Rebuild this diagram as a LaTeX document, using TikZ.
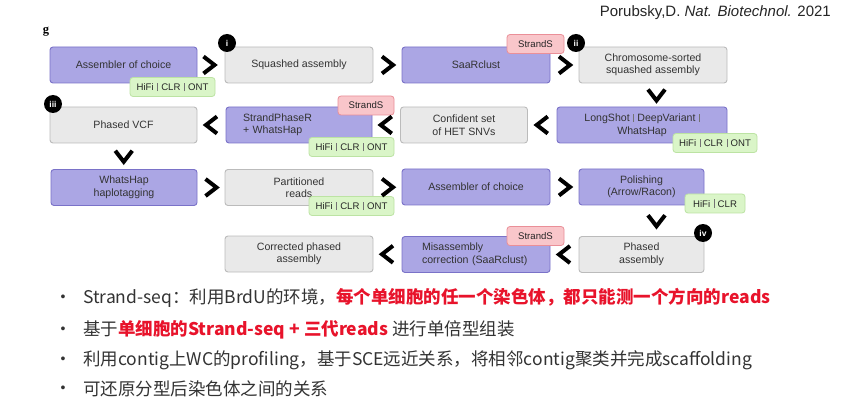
\documentclass[tikz,border=0pt]{standalone}
\usepackage{fontspec}
\setmainfont{Liberation Sans}
\newfontfamily\cjk{Noto Sans CJK SC}
\newfontfamily\serifg{Liberation Serif}
\usetikzlibrary{calc}

\definecolor{purfill}{HTML}{ABA6E4}
\definecolor{purdraw}{HTML}{7A72C8}
\definecolor{grfill}{HTML}{E9E9E9}
\definecolor{grdraw}{HTML}{BBBBBB}
\definecolor{tagG}{HTML}{DAF5C8}
\definecolor{tagGd}{HTML}{BCE3A3}
\definecolor{tagP}{HTML}{F9C6CA}
\definecolor{tagPd}{HTML}{EA8F98}
\definecolor{ink}{HTML}{333333}
\definecolor{hot}{HTML}{E8132B}

\tikzset{
  stepbase/.style={rounded corners=3pt, line width=0.9pt, minimum height=36pt,
    text=ink, inner sep=0pt, align=center, font=\fontsize{10.6}{12.5}\selectfont},
  tool/.style={stepbase, fill=purfill, draw=purdraw},
  data/.style={stepbase, fill=grfill, draw=grdraw},
  tagbase/.style={rounded corners=3pt, line width=0.8pt, minimum height=19pt,
    inner sep=0pt, text=black!85, font=\fontsize{9.6}{11}\selectfont},
  techtag/.style={tagbase, fill=tagG, draw=tagGd},
  strandtag/.style={tagbase, fill=tagP, draw=tagPd},
  badge/.style={circle, fill=black, text=white, minimum size=18pt, inner sep=0pt,
    font=\bfseries\fontsize{8.5}{9}\selectfont},
  chev/.pic={\draw[line width=4pt, line join=miter, line cap=butt]
    (-5.5,-8.5) -- (5.5,0) -- (-5.5,8.5);},
  bulletline/.style={anchor=west, inner sep=0pt, text=ink,
    font=\cjk\fontsize{17.5}{20}\selectfont},
}
\newcommand{\techsep}{\hspace{3.5pt}\textcolor{black!55}{\rule[-0.5pt]{0.6pt}{8.5pt}}\hspace{3.5pt}}

\begin{document}
\begin{tikzpicture}[x=1pt, y=-1pt]
\useasboundingbox[fill=white] (0,0) rectangle (843,406);

% reference line and panel letter
\node[anchor=east, inner sep=0pt, text=black!85, font=\fontsize{15}{17}\selectfont]
  (cite) at (831,13) {Porubsky,D. \textit{Nat. Biotechnol.} 2021};
\node[inner sep=0pt, font=\serifg\bfseries\fontsize{12.5}{13}\selectfont] (glabel) at (46,32) {g};

% row 1
\node[tool, minimum width=147pt] (a1) at (123.5,65) {Assembler of choice};
\node[data, minimum width=148pt] (b1) at (299,65) {Squashed assembly};
\node[tool, minimum width=148pt] (c1) at (476,65) {SaaRclust};
\node[data, minimum width=148pt] (d1) at (653,65) {Chromosome-sorted\\squashed assembly};

% row 2
\node[tool, minimum width=170pt] (d2) at (642,125) {LongShot\techsep DeepVariant\techsep\\WhatsHap};
\node[data, minimum width=127pt] (c2) at (464,125) {Confident set\\of HET SNVs};
\node[tool, minimum width=146pt, text width=112pt, align=left, inner xsep=17pt] (b2) at (299,125) {StrandPhaseR\\+ WhatsHap};
\node[data, minimum width=147pt] (a2) at (123.5,125) {Phased VCF};

% row 3
\node[tool, minimum width=146pt] (a3) at (124,187.5) {WhatsHap\\haplotagging};
\node[data, minimum width=148pt] (b3) at (299,187.5) {Partitioned\\reads};
\node[tool, minimum width=148pt] (c3) at (476,187) {Assembler of choice};
\node[tool, minimum width=125pt] (d3) at (641.5,187) {Polishing\\(Arrow/Racon)};

% row 4
\node[data, minimum width=125pt] (d4) at (641.5,254.5) {Phased\\assembly};
\node[tool, minimum width=148pt, text width=108pt, align=left, inner xsep=20pt] (c4) at (476,254.5) {Misassembly\\correction (SaaRclust)};
\node[data, minimum width=148pt] (b4) at (299,254) {Corrected phased\\assembly};

% sequencing-technology and Strand-seq tags
\node[techtag, minimum width=85pt] (t1) at (172.5,87) {HiFi\techsep CLR\techsep ONT};
\node[strandtag, minimum width=57pt] (t2) at (535.5,44) {StrandS};
\node[techtag, minimum width=84pt] (t3) at (715,143) {HiFi\techsep CLR\techsep ONT};
\node[strandtag, minimum width=56pt] (t4) at (366,105.5) {StrandS};
\node[techtag, minimum width=85pt] (t5) at (351.5,147) {HiFi\techsep CLR\techsep ONT};
\node[techtag, minimum width=85pt] (t6) at (351.5,206) {HiFi\techsep CLR\techsep ONT};
\node[techtag, minimum width=60pt] (t7) at (715,203.5) {HiFi\techsep CLR};
\node[strandtag, minimum width=57pt] (t8) at (535.5,236) {StrandS};

% step badges
\node[badge] (bi) at (227,43) {i};
\node[badge] (bii) at (576,43) {ii};
\node[badge] (biii) at (53,104) {iii};
\node[badge] (biv) at (703,233) {iv};

% chevrons between consecutive steps
\pic at ($(a1.east)!0.5!(b1.west)+(-2,0)$) {chev};
\pic at ($(b1.east)!0.5!(c1.west)$) {chev};
\pic at ($(c1.east)!0.5!(d1.west)$) {chev};
\pic[rotate=-90] at ($(d1.south)!0.5!(d2.north)+(9,0)$) {chev};
\pic[rotate=180] at ($(d2.west)!0.5!(c2.east)$) {chev};
\pic[rotate=180] at ($(c2.west)!0.5!(b2.east)$) {chev};
\pic[rotate=180] at ($(b2.west)!0.5!(a2.east)$) {chev};
\pic[rotate=-90] at ($(a2.south)!0.5!(a3.north)$) {chev};
\pic at ($(a3.east)!0.5!(b3.west)$) {chev};
\pic at ($(b3.east)!0.5!(c3.west)$) {chev};
\pic at ($(c3.east)!0.5!(d3.west)$) {chev};
\pic[rotate=-90] at ($(d3.south)!0.5!(d4.north)+(15,0)$) {chev};
\pic[rotate=180] at ($(d4.west)!0.5!(c4.east)$) {chev};
\pic[rotate=180] at ($(c4.west)!0.5!(b4.east)$) {chev};

% notes
\foreach \y/\n in {298/1, 330/2, 360/3, 389/4}
  \node[inner sep=0pt, text=ink, font=\fontsize{14}{16}\selectfont] (dot\n) at (63,\y) {•};
\node[bulletline] (l1) at (83,298) {Strand-seq：利用BrdU的环境，\textcolor{hot}{\bfseries 每个单细胞的任一个染色体，都只能测一个方向的reads}};
\node[bulletline] (l2) at (83,330) {基于\textcolor{hot}{\bfseries 单细胞的Strand-seq + 三代reads} 进行单倍型组装};
\node[bulletline] (l3) at (83,360) {利用contig上WC的profiling，基于SCE远近关系，将相邻contig聚类并完成scaffolding};
\node[bulletline] (l4) at (83,389) {可还原分型后染色体之间的关系};
\end{tikzpicture}
\end{document}
